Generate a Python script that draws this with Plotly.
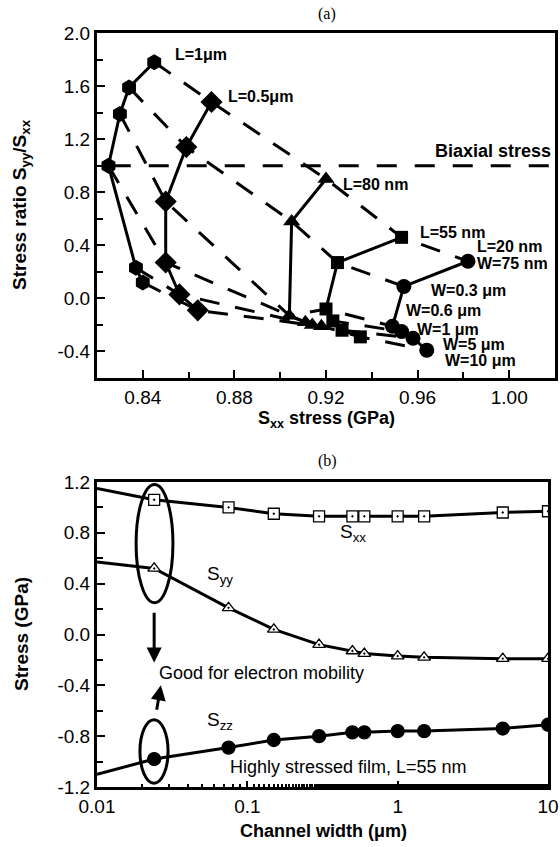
import math
import plotly.graph_objects as go

# ---------------- Panel (a) data ----------------
W_labels = ["W=75 nm", "W=0.3 μm", "W=0.6 μm", "W=1 μm", "W=5 μm", "W=10 μm"]
L_labels = ["L=1 μm", "L=0.5 μm", "L=80 nm", "L=55 nm", "L=20 nm"]

L1_x = [0.845, 0.834, 0.830, 0.825, 0.837, 0.840]
L1_y = [1.78, 1.59, 1.39, 1.00, 0.23, 0.12]
L05_x = [0.870, 0.859, 0.850, 0.850, 0.856, 0.864]
L05_y = [1.48, 1.14, 0.73, 0.27, 0.03, -0.09]
L80_x = [0.920, 0.905, 0.904, 0.911, 0.914, 0.918]
L80_y = [0.90, 0.58, -0.13, -0.18, -0.20, -0.21]
L55_x = [0.953, 0.925, 0.920, 0.923, 0.927, 0.935]
L55_y = [0.46, 0.27, -0.08, -0.17, -0.24, -0.29]
L20_x = [0.982, 0.954, 0.949, 0.953, 0.958, 0.964]
L20_y = [0.28, 0.09, -0.21, -0.25, -0.30, -0.39]

biaxial_ratio = 1.0

# ---------------- Panel (b) data ----------------
width_um = [0.01, 0.024, 0.075, 0.15, 0.3, 0.5, 0.6, 1, 1.5, 5, 10]
Sxx = [1.15, 1.06, 1.00, 0.95, 0.93, 0.93, 0.93, 0.93, 0.93, 0.96, 0.97]
Syy = [0.57, 0.52, 0.21, 0.04, -0.08, -0.13, -0.15, -0.17, -0.18, -0.19, -0.19]
Szz = [-1.10, -0.98, -0.89, -0.83, -0.80, -0.77, -0.77, -0.76, -0.76, -0.74, -0.71]

FONT = "Liberation Sans, Arial, sans-serif"
SERIF = "Liberation Serif, Times New Roman, serif"
W, H = 560, 847

def px_x(p):
    return p / W

def px_y(p):
    return 1 - p / H

fig = go.Figure()

series = [
    (L1_x, L1_y, "hexagon", 16),
    (L05_x, L05_y, "diamond", 17),
    (L80_x, L80_y, "triangle-up", 15),
    (L55_x, L55_y, "square", 13),
    (L20_x, L20_y, "circle", 15),
]

# iso-W dashed lines
for i in range(len(W_labels)):
    fig.add_trace(go.Scatter(
        x=[s[0][i] for s in series], y=[s[1][i] for s in series],
        mode="lines", line=dict(color="black", width=3, dash="20px,16px"),
        xaxis="x", yaxis="y", showlegend=False, hoverinfo="skip"))

# biaxial line
fig.add_trace(go.Scatter(
    x=[0.826, 1.02], y=[biaxial_ratio, biaxial_ratio], mode="lines",
    line=dict(color="black", width=3, dash="20px,18px"),
    xaxis="x", yaxis="y", showlegend=False, hoverinfo="skip"))

for sx, sy, sym, sz in series:
    fig.add_trace(go.Scatter(
        x=sx, y=sy, mode="lines+markers",
        line=dict(color="black", width=3),
        marker=dict(symbol=sym, size=sz, color="black"),
        xaxis="x", yaxis="y", showlegend=False))

# Panel (b) traces
for ys, sym, fill in [(Sxx, "square-dot", "white"), (Syy, "triangle-up-dot", "white"), (Szz, "circle", "black")]:
    fig.add_trace(go.Scatter(
        x=width_um, y=ys, mode="lines",
        line=dict(color="black", width=3),
        xaxis="x2", yaxis="y2", showlegend=False, hoverinfo="skip"))
    fig.add_trace(go.Scatter(
        x=width_um[1:], y=ys[1:], mode="markers",
        marker=dict(symbol=sym, size=11 if sym != "circle" else 13, color=fill,
                    line=dict(color="black", width=1.3)),
        xaxis="x2", yaxis="y2", showlegend=False))

annotations = []

def lab(x, y, text, size=16, xanchor="left", xref="x", yref="y", bold=True, family=FONT):
    annotations.append(dict(
        x=x, y=y, xref=xref, yref=yref, text=text, showarrow=False,
        xanchor=xanchor, yanchor="middle",
        font=dict(family=family, size=size, color="black", weight="bold" if bold else "normal")))

# panel (a) labels
lab(0.853, 1.84, "L=1μm")
lab(0.8765, 1.52, "L=0.5μm")
lab(0.9265, 0.86, "L=80 nm")
lab(0.9600, 0.50, "L=55 nm")
lab(0.9850, 0.39, "L=20 nm")
lab(0.9850, 0.26, "W=75 nm")
lab(0.9650, 0.06, "W=0.3 μm")
lab(0.9540, -0.095, "W=0.6 μm")
lab(0.9590, -0.235, "W=1 μm")
lab(0.9700, -0.345, "W=5 μm")
lab(0.9710, -0.47, "W=10 μm")
lab(1.019, 1.11, "Biaxial stress", size=18, xanchor="right")

# panel (b) labels (log axis -> log10 coordinates)
lab(math.log10(0.40), 0.80, "S<sub>xx</sub>", size=19, xref="x2", yref="y2", bold=False)
lab(math.log10(0.052), 0.47, "S<sub>yy</sub>", size=19, xref="x2", yref="y2", bold=False)
lab(math.log10(0.052), -0.68, "S<sub>zz</sub>", size=19, xref="x2", yref="y2", bold=False)
lab(math.log10(0.0252), -0.30, "Good for electron mobility", size=18, xref="x2", yref="y2", bold=False)
lab(math.log10(0.074), -1.045, "Highly stressed film, L=55 nm", size=18, xref="x2", yref="y2", bold=False)

# arrows
annotations.append(dict(
    x=math.log10(0.024), y=-0.22, ax=math.log10(0.024), ay=0.25,
    xref="x2", yref="y2", axref="x2", ayref="y2", showarrow=True,
    arrowhead=2, arrowsize=1, arrowwidth=3, arrowcolor="black", text=" "))
annotations.append(dict(
    x=math.log10(0.0266), y=-0.40, ax=math.log10(0.0243), ay=-0.67,
    xref="x2", yref="y2", axref="x2", ayref="y2", showarrow=True,
    arrowhead=2, arrowsize=1, arrowwidth=3, arrowcolor="black", text=" "))

# titles
lab(px_x(327), px_y(14), "(a)", size=16, xref="paper", yref="paper", bold=False, family=SERIF, xanchor="center")
lab(px_x(327), px_y(461), "(b)", size=16, xref="paper", yref="paper", bold=False, family=SERIF, xanchor="center")

# axis titles
lab(px_x(326), px_y(419), "S<sub>xx</sub> stress (GPa)", size=18, xref="paper", yref="paper", xanchor="center")
lab(px_x(323), px_y(831), "Channel width (μm)", size=18, xref="paper", yref="paper", xanchor="center")
annotations.append(dict(
    x=px_x(21), y=px_y(205), xref="paper", yref="paper", text="Stress ratio S<sub>yy</sub>/S<sub>xx</sub>",
    showarrow=False, textangle=-90, xanchor="center", yanchor="middle",
    font=dict(family=FONT, size=19, color="black", weight="bold")))
annotations.append(dict(
    x=px_x(21), y=px_y(634), xref="paper", yref="paper", text="Stress (GPa)",
    showarrow=False, textangle=-90, xanchor="center", yanchor="middle",
    font=dict(family=FONT, size=19, color="black", weight="bold")))

shapes = [
    dict(type="circle", xref="x2", yref="y2", x0=0.0182, x1=0.0320, y0=0.25, y1=1.18,
         line=dict(color="black", width=3)),
    dict(type="circle", xref="x2", yref="y2", x0=0.0193, x1=0.0297, y0=-1.17, y1=-0.67,
         line=dict(color="black", width=3)),
]

tickfont = dict(family=FONT, size=19, color="black")
axis_common = dict(showline=True, linecolor="black", linewidth=3, mirror=True,
                   showgrid=False, zeroline=False, ticks="inside", tickcolor="black",
                   tickwidth=2, tickfont=tickfont, automargin=False)

fig.update_layout(
    template=None,
    autosize=False,
    width=W, height=H, margin=dict(l=0, r=0, t=0, b=0, pad=0, autoexpand=False),
    paper_bgcolor="white", plot_bgcolor="white",
    xaxis=dict(domain=[px_x(97), px_x(555)], anchor="y", range=[0.82, 1.02],
               tickvals=[0.84, 0.88, 0.92, 0.96, 1.00], ticktext=["0.84", "0.88", "0.92", "0.96", "1.00"],
               ticklen=8, minor=dict(dtick=0.02, tick0=0.82, ticks="inside", ticklen=6, tickwidth=2, tickcolor="black"),
               **axis_common),
    yaxis=dict(domain=[px_y(378), px_y(33)], anchor="x", range=[-0.6, 2.0],
               tickvals=[-0.4, 0.0, 0.4, 0.8, 1.2, 1.6, 2.0],
               ticktext=["-0.4", "0.0", "0.4", "0.8", "1.2", "1.6", "2.0"],
               ticklen=8, minor=dict(dtick=0.2, tick0=0.0, ticks="inside", ticklen=6, tickwidth=2, tickcolor="black"),
               **axis_common),
    xaxis2=dict(domain=[px_x(97), px_x(548)], anchor="y2", type="log", range=[-2, 1],
                tickvals=[0.01, 0.1, 1, 10], ticktext=["0.01", "0.1", "1", "10"],
                ticklen=6, minor=dict(ticks="inside", ticklen=3, tickwidth=2, tickcolor="black"),
                **axis_common),
    yaxis2=dict(domain=[px_y(787), px_y(482)], anchor="x2", range=[-1.2, 1.2],
                tickvals=[-1.2, -0.8, -0.4, 0.0, 0.4, 0.8, 1.2],
                ticktext=["-1.2", "-0.8", "-0.4", "0.0", "0.4", "0.8", "1.2"],
                ticklen=8, minor=dict(dtick=0.2, tick0=0.0, ticks="inside", ticklen=6, tickwidth=2, tickcolor="black"),
                **axis_common),
    annotations=annotations, shapes=shapes,
)

fig.write_html("out.html")
